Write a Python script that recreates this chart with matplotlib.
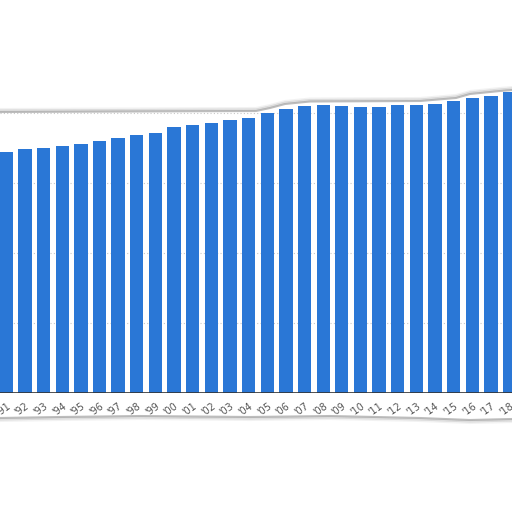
import matplotlib.pyplot as plt
import numpy as np

years = ["'91", "'92", "'93", "'94", "'95", "'96", "'97", "'98", "'99", "'00",
         "'01", "'02", "'03", "'04", "'05", "'06", "'07", "'08", "'09", "'10",
         "'11", "'12", "'13", "'14", "'15", "'16", "'17", "'18"]
values = [34.5, 34.9, 35.0, 35.3, 35.6, 36.0, 36.5, 36.9, 37.1, 38.0,
          38.3, 38.6, 39.0, 39.3, 40.0, 40.6, 41.0, 41.1, 41.0, 40.8,
          40.8, 41.1, 41.2, 41.3, 41.7, 42.2, 42.4, 43.0]
grid_values = [10, 20, 30, 40]

# torn paper edges (pixel coords of the cut-out)
top_edge_x = [0, 256, 270, 285, 310, 420, 456, 470, 500, 512]
top_edge_y = [112, 111, 108, 104, 101.5, 101, 98, 94, 91, 90]
bottom_edge_x = [0, 60, 140, 250, 330, 420, 470, 512]
bottom_edge_y = [418, 417, 416, 417, 416, 418, 420, 419]

W = 512
fig = plt.figure(figsize=(5.12, 5.12), dpi=100)

base_px = 393
ax = fig.add_axes([0, (W - base_px) / W, 1, base_px / W])
x = np.arange(len(years))
ax.bar(x, values, width=0.714, color='#2a77d6', zorder=3)
for g in grid_values:
    ax.axhline(g, color='#c8c8c8', lw=0.8, ls=(0, (1, 2)), zorder=1)
ax.axhline(0, color='#333333', lw=1.2, zorder=4)
ax.set_xlim(-0.338, 27.13)
ax.set_ylim(0, base_px / 7)
ax.set_yticks([])
ax.set_xticks(x)
ax.set_xticklabels(years, rotation=35, ha='right', rotation_mode='anchor',
                   fontsize=7, color='#555555')
ax.tick_params(axis='x', length=0, pad=6)
for s in ax.spines.values():
    s.set_visible(False)

# overlay for the torn edges
ov = fig.add_axes([0, 0, 1, 1], zorder=10)
ov.set_xlim(0, W)
ov.set_ylim(W, 0)
ov.axis('off')
ov.patch.set_alpha(0)
ov.fill_between(top_edge_x, 0, top_edge_y, color='white', lw=0)
ov.fill_between(bottom_edge_x, bottom_edge_y, W, color='white', lw=0)
for off, a in [(0, 0.55), (1.5, 0.25), (3, 0.1)]:
    ov.plot(top_edge_x, np.array(top_edge_y) - off, color='#888888', lw=1.5, alpha=a)
    ov.plot(bottom_edge_x, np.array(bottom_edge_y) + off, color='#888888', lw=1.5, alpha=a)

fig.savefig('out.png', dpi=100)
